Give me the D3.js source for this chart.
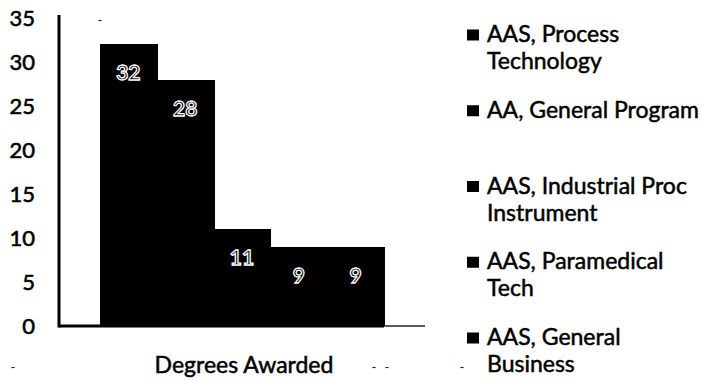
<!DOCTYPE html>
<html>
<head>
<meta charset="utf-8">
<script src="https://cdn.jsdelivr.net/npm/d3@7"></script>
<style>
  html, body { margin: 0; padding: 0; background: #fff; }
  svg { display: block; }
  text { font-family: Lato, "Open Sans", sans-serif; }
</style>
</head>
<body>
<svg id="chart" width="701" height="381"></svg>
<script>
// ---- data ----
const category = ["Degrees Awarded"];
const series = [
  "AAS, Process Technology",
  "AA, General Program",
  "AAS, Industrial Proc Instrument",
  "AAS, Paramedical Tech",
  "AAS, General Business"
];
const values = [32, 28, 11, 9, 9];
const legendLines = [
  ["AAS, Process", "Technology"],
  ["AA, General Program"],
  ["AAS, Industrial Proc", "Instrument"],
  ["AAS, Paramedical", "Tech"],
  ["AAS, General", "Business"]
];
const yTicks = [0, 5, 10, 15, 20, 25, 30, 35];

// ---- layout ----
const svg = d3.select("#chart");
const plotLeft = 59, plotRight = 425, plotTop = 18, plotBottom = 326;

const y = d3.scaleLinear().domain([0, 35]).range([plotBottom, plotTop]);
const x0 = d3.scaleBand().domain(category).range([plotLeft, plotRight]).paddingOuter(0.144);
const x1 = d3.scaleBand().domain(series).range([0, x0.bandwidth()]).padding(0);

// y axis labels
const yAxis = d3.axisLeft(y).tickValues(yTicks).tickSize(0).tickPadding(24);
const gy = svg.append("g").attr("transform", `translate(${plotLeft},0)`).call(yAxis);
gy.select(".domain").remove();
gy.selectAll("text")
  .attr("font-family", "Lato, sans-serif")
  .attr("font-size", 22)
  .attr("fill", "#000")
  .attr("stroke", "#000")
  .attr("stroke-width", 0.6);

// bars
const g = svg.append("g").attr("transform", `translate(${x0(category[0])},0)`);
g.selectAll("rect.bar")
  .data(series.map((s, i) => ({ s, v: values[i] })))
  .join("rect")
  .attr("class", "bar")
  .attr("x", d => x1(d.s))
  .attr("y", d => y(d.v))
  .attr("width", x1.bandwidth() + 1)
  .attr("height", d => plotBottom - y(d.v))
  .attr("shape-rendering", "crispEdges")
  .attr("fill", "#000");

// value labels
g.selectAll("text.val")
  .data(series.map((s, i) => ({ s, v: values[i] })))
  .join("text")
  .attr("class", "val")
  .attr("x", d => x1(d.s) + x1.bandwidth() / 2)
  .attr("y", d => y(d.v) + 36)
  .attr("text-anchor", "middle")
  .attr("font-size", 21)
  .attr("font-weight", "bold")
  .attr("fill", "#000")
  .attr("stroke", "#fff")
  .attr("stroke-width", 1.3)
  .text(d => d.v);

// axis lines
svg.append("line")
  .attr("x1", plotLeft).attr("x2", plotLeft)
  .attr("y1", 15).attr("y2", plotBottom + 1.5)
  .attr("stroke", "#000").attr("stroke-width", 3);
svg.append("line")
  .attr("x1", plotLeft).attr("x2", x0(category[0]) + x0.bandwidth())
  .attr("y1", plotBottom).attr("y2", plotBottom)
  .attr("stroke", "#000").attr("stroke-width", 3);
svg.append("line")
  .attr("x1", x0(category[0]) + x0.bandwidth()).attr("x2", plotRight)
  .attr("y1", plotBottom).attr("y2", plotBottom)
  .attr("stroke", "#222").attr("stroke-width", 1.6);

// category label
svg.append("text")
  .attr("x", x0(category[0]) + x0.bandwidth() / 2 + 2)
  .attr("y", 373)
  .attr("text-anchor", "middle")
  .attr("font-size", 23)
  .attr("fill", "#000")
  .attr("stroke", "#000")
  .attr("stroke-width", 0.5)
  .text(category[0]);

// legend
const ly = d3.scalePoint().domain(series).range([35, 338]);
const lg = svg.append("g");
series.forEach((s, i) => {
  const cy = ly(s);
  lg.append("rect")
    .attr("x", 467).attr("y", cy - 5.5)
    .attr("width", 12).attr("height", 11)
    .attr("fill", "#000");
  const t = lg.append("text")
    .attr("x", 487).attr("y", cy + 7)
    .attr("font-size", 23)
    .attr("fill", "#000")
    .attr("stroke", "#000")
    .attr("stroke-width", 0.5);
  legendLines[i].forEach((line, j) => {
    t.append("tspan").attr("x", 487).attr("dy", j === 0 ? 0 : 27).text(line);
  });
});

// stray scan marks
const marks = [[13, 372], [374, 372], [387, 372], [462, 372], [100, 25]];
svg.selectAll("text.mark").data(marks).join("text")
  .attr("class", "mark")
  .attr("x", d => d[0]).attr("y", d => d[1])
  .attr("text-anchor", "middle")
  .attr("font-size", 13)
  .attr("fill", "#222")
  .text("-");
</script>
</body>
</html>
